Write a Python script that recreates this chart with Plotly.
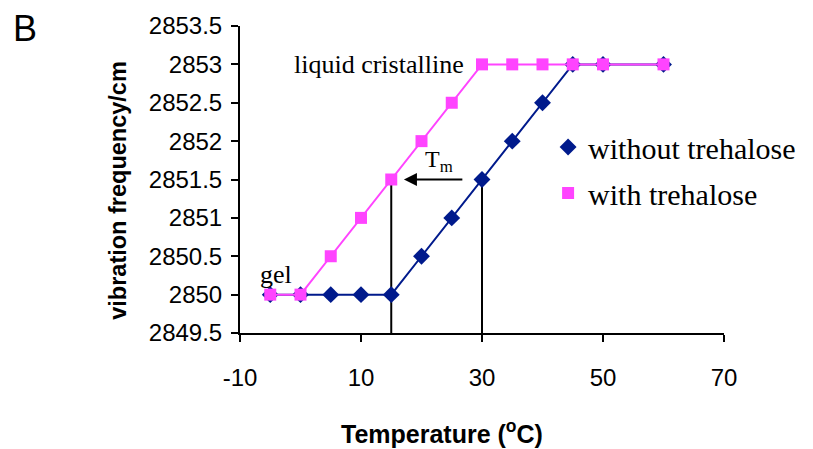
import plotly.graph_objects as go

temps = [-5, 0, 5, 10, 15, 20, 25, 30, 35, 40, 45, 50, 60]
without_treh = [2850, 2850, 2850, 2850, 2850, 2850.5, 2851, 2851.5, 2852, 2852.5, 2853, 2853, 2853]
with_treh = [2850, 2850, 2850.5, 2851, 2851.5, 2852, 2852.5, 2853, 2853, 2853, 2853, 2853, 2853]
x_ticks = [-10, 10, 30, 50, 70]
y_ticks = [2849.5, 2850, 2850.5, 2851, 2851.5, 2852, 2852.5, 2853, 2853.5]
tm_without = 30
tm_with = 15
tm_level = 2851.5

NAVY = "#001a8c"
PINK = "#ff44ff"

fig = go.Figure()
# vertical Tm lines
fig.add_trace(go.Scatter(x=[tm_with, tm_with], y=[2849.5, tm_level], mode="lines",
                         line=dict(color="black", width=2), showlegend=False, hoverinfo="skip"))
fig.add_trace(go.Scatter(x=[tm_without, tm_without], y=[2849.5, tm_level], mode="lines",
                         line=dict(color="black", width=2), showlegend=False, hoverinfo="skip"))
fig.add_trace(go.Scatter(x=temps, y=without_treh, mode="lines+markers",
                         line=dict(color=NAVY, width=2),
                         marker=dict(symbol="diamond", size=13, color=NAVY),
                         showlegend=False, cliponaxis=False))
fig.add_trace(go.Scatter(x=temps, y=with_treh, mode="lines+markers",
                         line=dict(color=PINK, width=2),
                         marker=dict(symbol="square", size=12, color=PINK),
                         showlegend=False, cliponaxis=False))
# legend-only traces
fig.add_trace(go.Scatter(x=[None], y=[None], mode="markers", name="without trehalose",
                         marker=dict(symbol="diamond", size=13, color=NAVY), legendgroup="a"))
fig.add_trace(go.Scatter(x=[None], y=[None], mode="markers", name="with trehalose",
                         marker=dict(symbol="square", size=12, color=PINK), legendgroup="b"))

fig.add_annotation(x=17.1, y=tm_level, ax=27.0, ay=tm_level, axref="x", ayref="y",
                   xref="x", yref="y", text="", showarrow=True, arrowhead=2,
                   arrowsize=1.3, arrowwidth=2, arrowcolor="black")
fig.add_annotation(x=22.85, y=2851.74, xref="x", yref="y", text="T<sub>m</sub>",
                   showarrow=False, font=dict(family="Liberation Serif", size=24, color="black"))
fig.add_annotation(x=27.3, y=2853, xref="x", yref="y", text="liquid cristalline",
                   showarrow=False, xanchor="right", yanchor="middle",
                   font=dict(family="Liberation Serif", size=26, color="black"))
fig.add_annotation(x=-4.1, y=2850.26, xref="x", yref="y", text="gel",
                   showarrow=False, xanchor="center", yanchor="middle",
                   font=dict(family="Liberation Serif", size=26, color="black"))
fig.add_annotation(x=(24 - 240) / 487, y=1 - (28 - 26) / 307, xref="paper", yref="paper", text="B",
                   showarrow=False, xanchor="center", yanchor="middle",
                   font=dict(family="Arial", size=36, color="black"))
# axis titles
fig.add_annotation(x=(117 - 240) / 487, y=1 - (190 - 26) / 307, xref="paper", yref="paper",
                   text="<b>vibration frequency/cm</b>", textangle=-90, showarrow=False,
                   xanchor="center", yanchor="middle",
                   font=dict(family="Arial", size=23.5, color="black"))
fig.add_annotation(x=(443 - 240) / 487, y=1 - (432 - 26) / 307, xref="paper", yref="paper",
                   text="<b>Temperature (<sup>o</sup>C)</b>", showarrow=False,
                   xanchor="center", yanchor="middle",
                   font=dict(family="Arial", size=25, color="black"))

fig.update_xaxes(range=[-10, 70], tickvals=x_ticks, ticktext=[str(v) for v in x_ticks],
                 showgrid=False, zeroline=False, showline=True, linecolor="black", linewidth=2,
                 ticks="outside", ticklen=7, tickwidth=2, tickcolor="black",
                 ticklabelstandoff=15, automargin=False,
                 tickfont=dict(family="Arial", size=24, color="black"))
fig.update_yaxes(range=[2849.5, 2853.5], tickvals=y_ticks, ticktext=[f"{v:g}" for v in y_ticks],
                 showgrid=False, zeroline=False, showline=True, linecolor="black", linewidth=2,
                 ticks="outside", ticklen=7, tickwidth=2, tickcolor="black",
                 ticklabelstandoff=4, automargin=False,
                 tickfont=dict(family="Arial", size=24, color="black"))

fig.update_layout(
    width=805, height=441,
    margin=dict(l=232, r=86, t=18, b=116),
    plot_bgcolor="white", paper_bgcolor="white",
    legend=dict(x=(550 - 240) / 487, y=1 - (121 - 26) / 307, xanchor="left", yanchor="top",
                font=dict(family="Liberation Serif", size=30, color="black"),
                bgcolor="rgba(0,0,0,0)", tracegroupgap=4, itemwidth=30),
)

fig.write_html("out.html")
